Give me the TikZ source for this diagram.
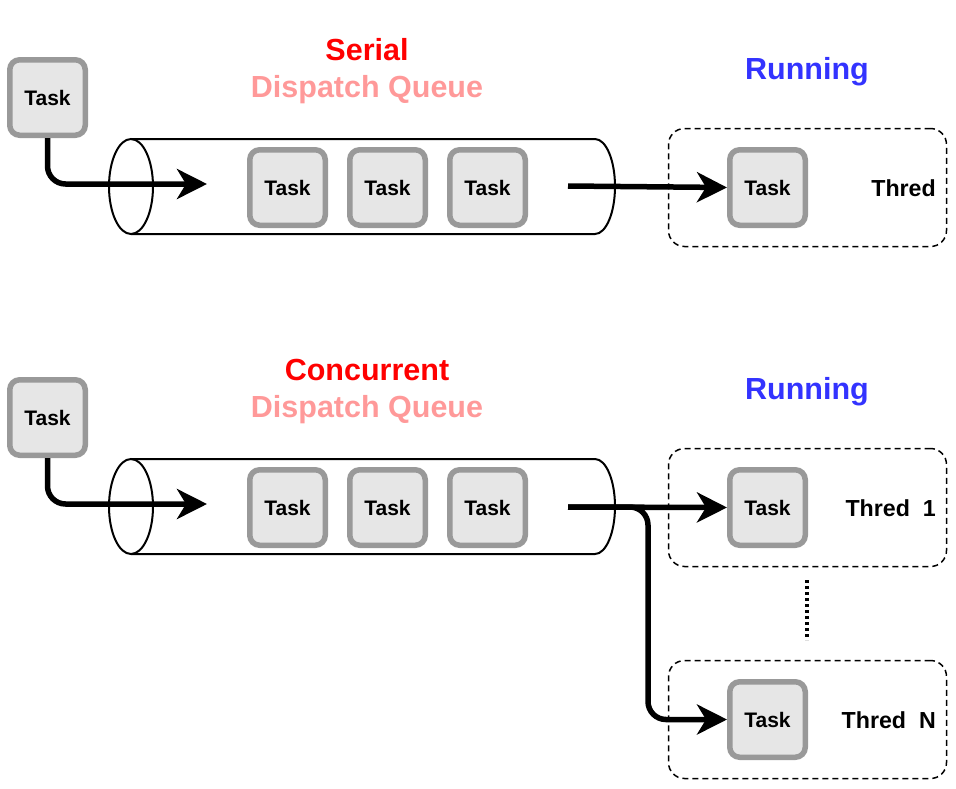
\documentclass[tikz,border=0pt]{standalone}
\usepackage{fontspec}
\setmainfont{Liberation Sans}
\usetikzlibrary{arrows.meta}
\definecolor{boxgray}{HTML}{999999}
\definecolor{boxfill}{HTML}{E6E6E6}
\definecolor{qpink}{HTML}{FF9999}
\definecolor{runblue}{HTML}{3333FF}
\definecolor{serred}{HTML}{FF0000}
\begin{document}
\begin{tikzpicture}[x=1pt,y=-1pt,
  task/.style={draw=boxgray, fill=boxfill, line width=5.5pt, rounded corners=10pt,
    minimum width=75.5pt, minimum height=75.5pt, inner sep=0pt,
    font=\fontsize{21}{24}\selectfont\bfseries},
  flow/.style={line width=5.5pt, -{Stealth[length=30pt,width=30pt,inset=9pt]}, rounded corners=18pt},
  thread/.style={draw, dash pattern=on 6pt off 4pt, line width=1.5pt, rounded corners=16pt,
    minimum width=278pt, minimum height=118pt, inner sep=0pt},
  title/.style={font=\fontsize{30.5}{34}\selectfont\bfseries, anchor=base, inner sep=0pt},
  thlabel/.style={font=\fontsize{23.2}{26}\selectfont\bfseries, anchor=base east, inner sep=0pt},
  cyl/.style={line width=2pt}
]
\useasboundingbox (0,0) rectangle (956,788);

% ---------- Serial ----------
\node[title, text=serred] (ser) at (367,60.5) {Serial};
\node[title, text=qpink] (dq1) at (367,97.5) {Dispatch Queue};
\node[title, text=runblue] (run1) at (807,79.5) {Running};

\draw[cyl] (131,139) -- (595,139) arc[start angle=-90,end angle=90,x radius=20,y radius=47.5] -- (131,234);
\draw[cyl] (131,186.5) ellipse[x radius=22,y radius=47.5];

\node[task] (in1) at (47.5,97.5) {Task};
\node[task] (q1a) at (287.5,187.5) {Task};
\node[task] (q1b) at (387.5,187.5) {Task};
\node[task] (q1c) at (487.5,187.5) {Task};

\node[thread] (th1) at (807.5,187.5) {};
\node[task] (o1) at (767.5,187.5) {Task};
\node[thlabel] (l1) at (936,196) {Thred};

\coordinate (q1in) at (207,184);
\coordinate (q1out) at (568,186);
\draw[flow] (in1.south) |- (q1in);
\draw[flow] (q1out) -- (o1.west);

% ---------- Concurrent ----------
\node[title, text=serred] (con) at (367,380.5) {Concurrent};
\node[title, text=qpink] (dq2) at (367,417.5) {Dispatch Queue};
\node[title, text=runblue] (run2) at (807,399.5) {Running};

\draw[cyl] (131,459) -- (595,459) arc[start angle=-90,end angle=90,x radius=20,y radius=47.5] -- (131,554);
\draw[cyl] (131,506.5) ellipse[x radius=22,y radius=47.5];

\node[task] (in2) at (47.5,417.5) {Task};
\node[task] (q2a) at (287.5,507.5) {Task};
\node[task] (q2b) at (387.5,507.5) {Task};
\node[task] (q2c) at (487.5,507.5) {Task};

\node[thread] (th2) at (807.5,507.5) {};
\node[task] (o2) at (767.5,507.5) {Task};
\node[thlabel] (l2) at (936,516) {Thred~~1};

\node[thread] (th3) at (807.5,719.5) {};
\node[task] (o3) at (767.5,719.5) {Task};
\node[thlabel] (l3) at (936,728) {Thred~~N};

\coordinate (q2in) at (207,504);
\coordinate (q2out) at (568,507);
\coordinate (br) at (648,507);
\draw[flow] (in2.south) |- (q2in);
\draw[flow] (q2out) -- (o2.west);
\draw[flow] (q2out) -- (br) |- (o3.west);

\coordinate (d1) at (807,580);
\coordinate (d2) at (807,640);
\draw[line width=3.5pt, dash pattern=on 3pt off 3pt] (d1) -- (d2);
\end{tikzpicture}
\end{document}
